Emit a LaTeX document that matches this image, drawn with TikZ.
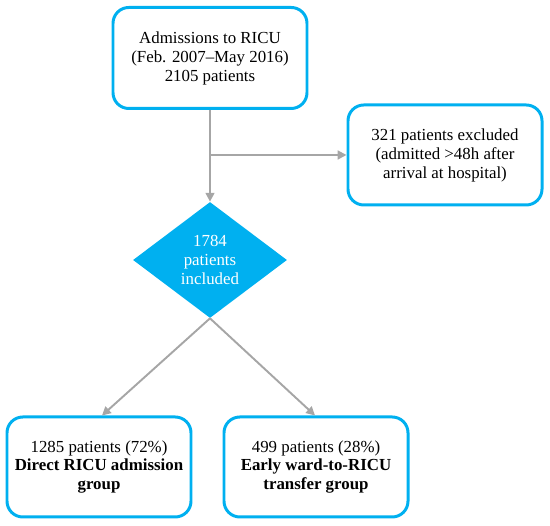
\documentclass[tikz,border=0pt]{standalone}
\usepackage{xcolor}
\usepackage{tikz}
\usepackage{fontspec}
\setmainfont{Liberation Serif}
\usetikzlibrary{arrows.meta, positioning, shapes.geometric, calc}
\definecolor{ricublue}{RGB}{0, 176, 240}
\definecolor{flowgray}{RGB}{166, 166, 166}

\tikzset{
  flowbox/.style={draw=ricublue, line width=1.7pt, rounded corners=9pt, fill=white,
    align=center, inner sep=0pt},
  flowline/.style={draw=flowgray, line width=1.1pt, -{Triangle[length=5pt, width=5pt]}}
}

\begin{document}
\begin{tikzpicture}[font=\fontsize{9.6}{10.8}\selectfont]
  \useasboundingbox (0,0) rectangle (11,10.52);

  \node[flowbox, minimum width=3.88cm, minimum height=2.02cm] (adm) at (4.2,9.36)
    {Admissions to RICU\\(Feb. 2007–May 2016)\\2105 patients};

  \node[flowbox, minimum width=3.88cm, minimum height=2.0cm] (excl) at (8.9,7.42)
    {321 patients excluded\\(admitted >48h after\\arrival at hospital)};

  \node[diamond, fill=ricublue, text=white, align=center, inner sep=0pt,
    minimum width=3.08cm, minimum height=2.32cm] (incl) at (4.2,5.32)
    {1784\\patients\\included};

  \node[flowbox, minimum width=3.68cm, minimum height=2.0cm] (direct) at (1.98,1.18)
    {1285 patients (72\%)\\\textbf{Direct RICU admission}\\\textbf{group}};

  \node[flowbox, minimum width=3.68cm, minimum height=2.0cm] (early) at (6.32,1.18)
    {499 patients (28\%)\\\textbf{Early ward-to-RICU}\\\textbf{transfer group}};

  \coordinate (split) at (adm.south |- excl.west);

  \draw[flowline] (adm.south) -- (incl.north);
  \draw[flowline] (split) -- (excl.west);
  \draw[flowline] (incl.south) -- ($(direct.north)+(0.06,0)$);
  \draw[flowline] (incl.south) -- ($(early.north)+(-0.02,0)$);
\end{tikzpicture}
\end{document}
